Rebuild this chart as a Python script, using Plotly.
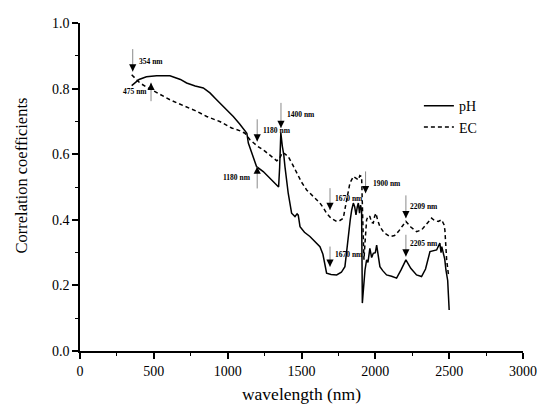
import plotly.graph_objects as go

# ---- data ----
ph_wl = [350, 400, 450, 519, 609, 680, 722, 780, 835, 880, 925, 980, 1038, 1080, 1117, 1130, 1140, 1160,
         1174, 1196, 1241, 1286, 1320, 1345, 1352, 1360, 1370, 1380, 1388, 1400, 1410, 1433, 1456, 1470,
         1478, 1490, 1520, 1557, 1590, 1625, 1645, 1659, 1670, 1700, 1738, 1770, 1794, 1805, 1817, 1830,
         1840, 1851, 1860, 1869, 1878, 1885, 1893, 1900, 1907, 1912, 1918, 1925, 1930, 1941, 1950, 1963,
         1975, 1986, 2000, 2009, 2020, 2031, 2050, 2076, 2110, 2144, 2175, 2207, 2240, 2279, 2313, 2340,
         2370, 2390, 2415, 2437, 2445, 2450, 2460, 2470, 2478, 2485, 2490, 2495, 2500]
ph_r = [0.809, 0.828, 0.836, 0.839, 0.839, 0.828, 0.817, 0.808, 0.802, 0.787, 0.766, 0.742, 0.715, 0.693,
        0.672, 0.664, 0.634, 0.606, 0.593, 0.562, 0.547, 0.527, 0.512, 0.500, 0.560, 0.665, 0.625, 0.598,
        0.562, 0.520, 0.481, 0.420, 0.410, 0.418, 0.414, 0.379, 0.362, 0.349, 0.335, 0.318, 0.295, 0.268,
        0.237, 0.233, 0.232, 0.240, 0.257, 0.300, 0.359, 0.400, 0.430, 0.451, 0.440, 0.415, 0.440, 0.451,
        0.420, 0.445, 0.430, 0.146, 0.180, 0.240, 0.247, 0.278, 0.270, 0.313, 0.285, 0.298, 0.300, 0.323,
        0.290, 0.257, 0.245, 0.232, 0.228, 0.222, 0.248, 0.278, 0.252, 0.232, 0.227, 0.250, 0.303, 0.305,
        0.308, 0.329, 0.300, 0.318, 0.298, 0.280, 0.247, 0.232, 0.215, 0.170, 0.125]

ec_wl = [350, 380, 406, 450, 500, 550, 609, 700, 780, 858, 950, 1027, 1080, 1117, 1151, 1200, 1250, 1300,
         1332, 1350, 1370, 1390, 1410, 1440, 1467, 1500, 1535, 1580, 1625, 1650, 1670, 1700, 1738, 1760,
         1783, 1806, 1818, 1828, 1851, 1870, 1885, 1895, 1907, 1915, 1923, 1930, 1941, 1952, 1963, 1975,
         1986, 1995, 2004, 2015, 2031, 2060, 2099, 2130, 2156, 2185, 2207, 2240, 2279, 2313, 2345, 2381,
         2400, 2426, 2449, 2465, 2471, 2483, 2494, 2500]
ec_r = [0.842, 0.828, 0.817, 0.805, 0.792, 0.780, 0.766, 0.748, 0.733, 0.715, 0.699, 0.680, 0.672, 0.664,
        0.644, 0.625, 0.610, 0.592, 0.580, 0.585, 0.605, 0.600, 0.593, 0.568, 0.542, 0.515, 0.491, 0.470,
        0.451, 0.435, 0.420, 0.405, 0.395, 0.398, 0.405, 0.461, 0.490, 0.512, 0.532, 0.525, 0.522, 0.535,
        0.532, 0.400, 0.278, 0.330, 0.400, 0.412, 0.410, 0.392, 0.390, 0.410, 0.420, 0.400, 0.379, 0.360,
        0.349, 0.352, 0.364, 0.382, 0.395, 0.378, 0.364, 0.369, 0.385, 0.405, 0.398, 0.395, 0.400, 0.385,
        0.369, 0.278, 0.237, 0.230]

# annotation arrows: label, arrow x (nm), tail y, head y, label x, label y, anchor
ann_labels = ["354 nm", "475 nm", "1180 nm", "1400 nm", "1180 nm", "1670 nm", "1670 nm", "1900 nm", "2209 nm", "2205 nm"]
ann_x = [357, 481, 1200, 1361, 1200, 1693, 1693, 1934, 2207, 2207]
ann_tail = [0.925, 0.757, 0.711, 0.761, 0.491, 0.501, 0.323, 0.552, 0.479, 0.359]
ann_head = [0.852, 0.818, 0.639, 0.680, 0.562, 0.430, 0.257, 0.481, 0.405, 0.288]
lab_x = [386, 467, 1225, 1388, 1171, 1711, 1711, 1968, 2223, 2223]
lab_y = [0.883, 0.790, 0.672, 0.720, 0.528, 0.466, 0.293, 0.512, 0.442, 0.327]
lab_anchor = ["left", "right", "left", "left", "right", "left", "left", "left", "left", "left"]

x_ticks = [0, 500, 1000, 1500, 2000, 2500, 3000]
y_ticks = [0.0, 0.2, 0.4, 0.6, 0.8, 1.0]

FONT = "Liberation Serif"

fig = go.Figure()
fig.add_trace(go.Scatter(x=ph_wl, y=ph_r, mode="lines", name="pH",
                         line=dict(color="black", width=1.5)))
fig.add_trace(go.Scatter(x=ec_wl, y=ec_r, mode="lines", name="EC",
                         line=dict(color="black", width=1.5, dash="4px,3px")))

annotations = []
for i in range(len(ann_labels)):
    annotations.append(dict(x=ann_x[i], y=ann_head[i], ax=ann_x[i], ay=ann_tail[i],
                            xref="x", yref="y", axref="x", ayref="y", text="",
                            showarrow=True, arrowhead=0, arrowwidth=1, arrowcolor="#8a8a8a"))
    sign = -1 if ann_tail[i] > ann_head[i] else 1
    annotations.append(dict(x=ann_x[i], y=ann_head[i], ax=0, ay=sign * 7,
                            xref="x", yref="y", text="", showarrow=True,
                            arrowhead=2, arrowsize=1.2, arrowwidth=1.2, arrowcolor="black"))
    annotations.append(dict(x=lab_x[i], y=lab_y[i], xref="x", yref="y", text="<b>" + ann_labels[i] + "</b>",
                            showarrow=False, xanchor=lab_anchor[i], yanchor="middle",
                            font=dict(family=FONT, size=7.5, color="black")))

# y-axis title (placed slightly above the axis centre, as in the reference)
annotations.append(dict(x=-0.131, y=0.535, xref="paper", yref="paper", text="Correlation coefficients",
                        textangle=-90, showarrow=False, xanchor="center", yanchor="middle",
                        font=dict(family=FONT, size=16.5, color="black")))

fig.update_layout(
    width=537, height=404,
    margin=dict(l=80, r=14, t=23, b=53, autoexpand=False),
    paper_bgcolor="white", plot_bgcolor="white",
    font=dict(family=FONT, color="black"),
    showlegend=True,
    legend=dict(x=0.765, y=0.795, xanchor="left", yanchor="top", bgcolor="rgba(0,0,0,0)",
                font=dict(family=FONT, size=14, color="black"), tracegroupgap=0,
                itemwidth=30),
    annotations=annotations,
)
fig.update_xaxes(range=[0, 3000], tickvals=x_ticks, ticktext=[str(v) for v in x_ticks],
                 automargin=False,
                 showline=True, linecolor="black", linewidth=1.5, mirror=False,
                 ticks="outside", ticklen=6, tickwidth=1.5, tickcolor="black",
                 minor=dict(dtick=250, ticks="outside", ticklen=3, tickwidth=1.2, tickcolor="black"),
                 showgrid=False, zeroline=False,
                 tickfont=dict(family=FONT, size=14, color="black"),
                 title=dict(text="wavelength (nm)", font=dict(family=FONT, size=17.5, color="black"), standoff=13))
fig.update_yaxes(range=[0, 1.0], tickvals=y_ticks, tickformat=".1f",
                 automargin=False,
                 showline=True, linecolor="black", linewidth=1.5, mirror=False,
                 ticks="outside", ticklen=6, tickwidth=1.5, tickcolor="black",
                 minor=dict(dtick=0.1, ticks="outside", ticklen=3, tickwidth=1.2, tickcolor="black"),
                 showgrid=False, zeroline=False,
                 tickfont=dict(family=FONT, size=14, color="black"))

fig.write_html("out.html", config={"displayModeBar": False},
               post_script="document.body.style.margin='0';document.body.style.overflow='hidden';")
